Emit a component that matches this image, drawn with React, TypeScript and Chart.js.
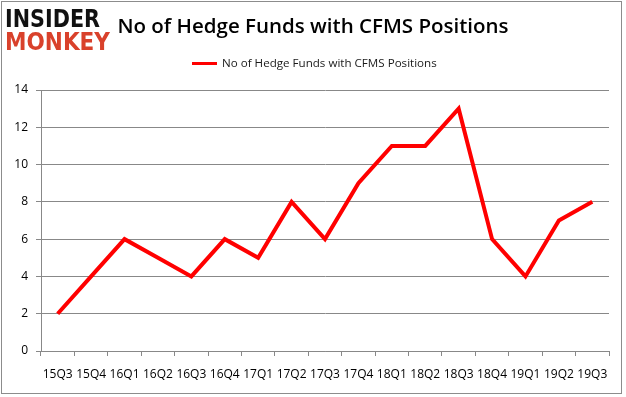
import React, { useEffect, useRef } from "react";
import { Chart, registerables } from "chart.js";

Chart.register(...registerables);

const categories = ["15Q3", "15Q4", "16Q1", "16Q2", "16Q3", "16Q4", "17Q1", "17Q2", "17Q3", "17Q4", "18Q1", "18Q2", "18Q3", "18Q4", "19Q1", "19Q2", "19Q3"];
const hedgeFunds = [2, 4, 6, 5, 4, 6, 5, 8, 6, 9, 11, 11, 13, 6, 4, 7, 8];
const seriesLabel = "No of Hedge Funds with CFMS Positions";
const titleText = "No of Hedge Funds with CFMS Positions";
const yTicks = [0, 2, 4, 6, 8, 10, 12, 14];

const FONT = "'Open Sans', sans-serif";

const decorPlugin = {
  id: "decor",
  afterDraw(chart: any) {
    const ctx = chart.ctx as CanvasRenderingContext2D;
    ctx.save();
    // border
    ctx.strokeStyle = "#8c8c8c";
    ctx.lineWidth = 1;
    ctx.strokeRect(1.5, 1.5, 620, 392);
    // title
    ctx.fillStyle = "#000";
    ctx.font = `600 20.5px ${FONT}`;
    ctx.textAlign = "center";
    ctx.textBaseline = "middle";
    ctx.fillText(titleText, 313, 27);
    // legend
    ctx.strokeStyle = "#ff0000";
    ctx.lineWidth = 3;
    ctx.beginPath();
    ctx.moveTo(192, 63.5);
    ctx.lineTo(217, 63.5);
    ctx.stroke();
    ctx.font = `11.6px ${FONT}`;
    ctx.textAlign = "left";
    ctx.fillStyle = "#1a1a1a";
    ctx.fillText(seriesLabel, 222, 63.5);
    // logo
    const drawFit = (t: string, x: number, y: number, w: number, h: number, color: string) => {
      ctx.font = `900 ${h * 1.35}px 'DejaVu Sans', sans-serif`;
      const m = ctx.measureText(t);
      ctx.save();
      ctx.translate(x, y);
      ctx.scale(w / m.width, 1);
      ctx.fillStyle = color;
      ctx.textAlign = "left";
      ctx.textBaseline = "alphabetic";
      ctx.fillText(t, 0, 0);
      ctx.restore();
    };
    drawFit("INSIDER", 5, 27, 95, 18, "#111111");
    drawFit("MONKEY", 5, 50, 105, 18, "#d9412b");
    ctx.restore();
  },
};

export default function App() {
  const ref = useRef<HTMLCanvasElement | null>(null);
  useEffect(() => {
    document.body.style.margin = "0";
    const canvas = ref.current!;
    const chart = new Chart(canvas, {
      type: "line",
      data: {
        labels: categories,
        datasets: [
          {
            label: seriesLabel,
            data: hedgeFunds,
            borderColor: "#ff0000",
            backgroundColor: "#ff0000",
            borderWidth: 4,
            pointRadius: 0,
            tension: 0,
          },
        ],
      },
      options: {
        responsive: false,
        animation: false,
        layout: { padding: { top: 90, left: 0, right: 17, bottom: 0 } },
        plugins: {
          legend: { display: false },
          title: { display: false },
          tooltip: { enabled: false },
        },
        scales: {
          x: {
            offset: true,
            grid: {
              offset: true,
              drawOnChartArea: false,
              drawTicks: true,
              tickLength: 5,
              color: "#888888",
            },
            border: { color: "#888888" },
            ticks: {
              color: "#000",
              font: { family: FONT, size: 12 },
              maxRotation: 0,
              autoSkip: false,
              padding: 11,
            },
            afterFit(scale: any) {
              scale.height = 397 - 351;
            },
          },
          y: {
            min: 0,
            max: 14,
            afterBuildTicks(scale: any) {
              scale.ticks = yTicks.map((v) => ({ value: v }));
            },
            grid: {
              color: "#888888",
              tickLength: 5,
            },
            border: { color: "#888888" },
            ticks: {
              color: "#000",
              font: { family: FONT, size: 12 },
              padding: 8,
            },
            afterFit(scale: any) {
              scale.width = 41;
            },
          },
        },
      },
      plugins: [decorPlugin],
    });
    return () => chart.destroy();
  }, []);
  return <canvas ref={ref} width={626} height={397} style={{ display: "block" }} />;
}
